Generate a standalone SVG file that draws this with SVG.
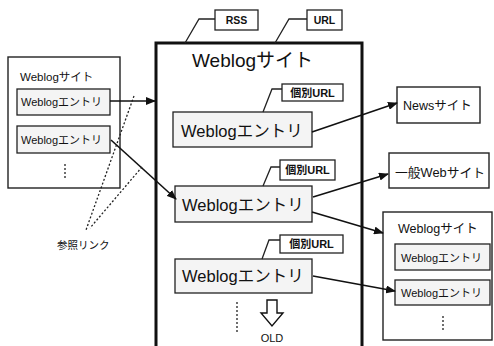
<svg xmlns="http://www.w3.org/2000/svg" width="494" height="346" viewBox="0 0 494 346">
<defs>
<marker id="ah" markerWidth="10" markerHeight="8" refX="9" refY="4" orient="auto" markerUnits="userSpaceOnUse">
<path d="M0,0 L10,4 L0,8 Z" fill="#111"/>
</marker>
<style>
text{font-family:"Liberation Sans","Noto Sans CJK JP",sans-serif;fill:#111}
.box{fill:#fff;stroke:#222;stroke-width:1.4}
.ent{fill:#f4f4f4;stroke:#222;stroke-width:1.3}
.lbl{fill:#fff;stroke:#222;stroke-width:1.3}
.big{fill:none;stroke:#111;stroke-width:3}
.con{fill:none;stroke:#111;stroke-width:1.6}
.dot{fill:none;stroke:#222;stroke-width:1.3;stroke-dasharray:2 2}
.lead{fill:none;stroke:#222;stroke-width:1.3}
.b{font-weight:bold}
</style>
</defs>
<rect width="494" height="346" fill="#fff"/>

<g id="left-site">
<rect class="box" x="8" y="57" width="112" height="131"/>
<text x="20" y="81" font-size="11.5">Weblogサイト</text>
<g id="left-entry1"><rect class="ent" x="17" y="89" width="93" height="26"/><text x="21" y="106" font-size="11">Weblogエントリ</text></g>
<g id="left-entry2"><rect class="ent" x="17" y="126" width="93" height="27"/><text x="21" y="144" font-size="11">Weblogエントリ</text></g>
<line class="dot" x1="65" y1="164" x2="65" y2="179"/>
</g>

<g id="ref-label"><text x="57" y="249" font-size="10.5">参照リンク</text></g>

<g id="main-site">
<path class="big" d="M156,346 L156,43 L362,43 L362,346"/>
<text x="192" y="67" font-size="19">Weblogサイト</text>
<g id="main-entry1"><rect class="ent" x="173" y="112" width="139" height="35"/><text x="181" y="137" font-size="16.5">Weblogエントリ</text></g>
<g id="main-entry2"><rect class="ent" x="175" y="186" width="137" height="36"/><text x="182" y="211" font-size="16.5">Weblogエントリ</text></g>
<g id="main-entry3"><rect class="ent" x="175" y="259" width="137" height="34"/><text x="182" y="282" font-size="16.5">Weblogエントリ</text></g>
<line class="dot" x1="237" y1="302" x2="237" y2="334"/>
<g id="old">
<path d="M267,300 L277,300 L277,313 L283,313 L272,326 L261,313 L267,313 Z" fill="#fff" stroke="#111" stroke-width="1.4"/>
<text x="272" y="342" font-size="11" text-anchor="middle">OLD</text>
</g>
</g>

<g id="rss"><rect class="lbl" x="215" y="10" width="43" height="20"/><text x="236.5" y="24" font-size="10.5" class="b" text-anchor="middle">RSS</text><path class="lead" d="M185,43 L199,19 L215,19"/></g>
<g id="url"><rect class="lbl" x="307" y="10" width="35" height="20"/><text x="324.5" y="24" font-size="10.5" class="b" text-anchor="middle">URL</text><path class="lead" d="M275,43 L289,19 L307,19"/></g>

<g id="url1"><rect class="lbl" x="282" y="84" width="61" height="17"/><text x="312.5" y="97" font-size="11" class="b" text-anchor="middle">個別URL</text><path class="lead" d="M263,112 L272,89 L282,89"/></g>
<g id="url2"><rect class="lbl" x="280" y="160" width="55" height="20"/><text x="307.5" y="174" font-size="11" class="b" text-anchor="middle">個別URL</text><path class="lead" d="M263,186 L271,167 L280,167"/></g>
<g id="url3"><rect class="lbl" x="280" y="235" width="63" height="18"/><text x="311.5" y="248" font-size="11" class="b" text-anchor="middle">個別URL</text><path class="lead" d="M262,259 L269,240 L280,240"/></g>

<g id="news"><rect class="box" x="397" y="87" width="83" height="36"/><text x="403" y="110" font-size="12.5">Newsサイト</text></g>
<g id="general"><rect class="box" x="389" y="153" width="100" height="35"/><text x="395" y="177" font-size="12.8">一般Webサイト</text></g>

<g id="right-site">
<rect class="box" x="383" y="212" width="109" height="128"/>
<text x="398" y="233" font-size="12.5">Weblogサイト</text>
<g id="right-entry1"><rect class="ent" x="395" y="244" width="95" height="26"/><text x="401" y="262" font-size="11">Weblogエントリ</text></g>
<g id="right-entry2"><rect class="ent" x="395" y="280" width="95" height="25"/><text x="401" y="297" font-size="11">Weblogエントリ</text></g>
<line class="dot" x1="443" y1="316" x2="443" y2="331"/>
</g>

<g id="connectors">
<line class="con" x1="110" y1="101" x2="155" y2="101" marker-end="url(#ah)"/>
<line class="con" x1="111" y1="140" x2="176" y2="199" marker-end="url(#ah)"/>
<line class="con" x1="312" y1="132" x2="397" y2="103" marker-end="url(#ah)"/>
<line class="con" x1="313" y1="197" x2="388" y2="174" marker-end="url(#ah)"/>
<line class="con" x1="312" y1="212" x2="383" y2="233" marker-end="url(#ah)"/>
<line class="con" x1="313" y1="276" x2="395" y2="291" marker-end="url(#ah)"/>
<line class="dot" x1="134" y1="96" x2="86" y2="230"/>
<line class="dot" x1="142" y1="167" x2="90" y2="228"/>
</g>
</svg>
